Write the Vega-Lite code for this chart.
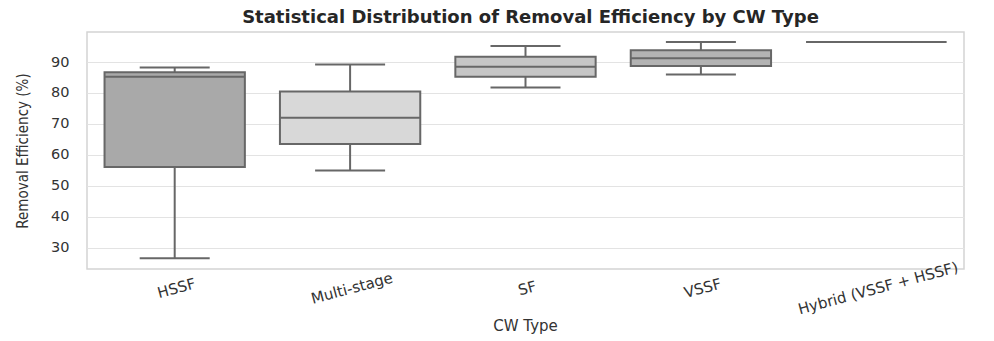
{
  "$schema": "https://vega.github.io/schema/vega-lite/v6.json",
  "autosize": "none",
  "width": 877,
  "height": 237,
  "padding": {"left": 87, "top": 32, "right": 30, "bottom": 72},
  "background": "white",
  "title": {
    "text": "Statistical Distribution of Removal Efficiency by CW Type",
    "font": "DejaVu Sans",
    "fontSize": 18,
    "fontWeight": "bold",
    "color": "#262626",
    "anchor": "middle",
    "offset": 5,
    "dx": 5
  },
  "config": {
    "view": {"stroke": "#d4d4d4", "strokeWidth": 1.5},
    "axis": {"labelFont": "DejaVu Sans", "titleFont": "DejaVu Sans", "labelColor": "#333333", "titleColor": "#333333", "domain": false, "ticks": false},
    "axisY": {"labelOverlap": false, "labelFontSize": 14.5, "labelPadding": 18}
  },
  "data": {
    "values": [
      {"type": "HSSF", "min": 26.6, "q1": 56.1, "median": 85.2, "q3": 86.7, "max": 88.2},
      {"type": "Multi-stage", "min": 54.9, "q1": 63.5, "median": 72.0, "q3": 80.5, "max": 89.2},
      {"type": "SF", "min": 81.8, "q1": 85.2, "median": 88.5, "q3": 91.7, "max": 95.2},
      {"type": "VSSF", "min": 86.0, "q1": 88.7, "median": 91.2, "q3": 93.8, "max": 96.5},
      {"type": "Hybrid (VSSF + HSSF)", "min": 96.5, "q1": 96.5, "median": 96.5, "q3": 96.5, "max": 96.5}
    ]
  },
  "encoding": {
    "x": {
      "field": "type",
      "type": "nominal",
      "sort": null,
      "scale": {"paddingInner": 0, "paddingOuter": 0},
      "axis": {
        "title": "CW Type",
        "titleFontSize": 15,
        "titleFontWeight": "normal",
        "titleX": 438,
        "titleY": 56,
        "titleBaseline": "middle",
        "labelFontSize": 15,
        "labelAngle": -15,
        "labelAlign": "center",
        "labelBaseline": "top",
        "labelPadding": 12,
        "grid": false
      }
    }
  },
  "layer": [
    {
      "mark": {"type": "rule", "stroke": "#676767", "strokeWidth": 2},
      "encoding": {
        "y": {
          "field": "min",
          "type": "quantitative",
          "scale": {"domain": [23.1, 99.7], "nice": false, "zero": false},
          "axis": {
            "title": "Removal Efficiency (%)",
            "titleFont": "DejaVu Sans Condensed, Liberation Sans, sans-serif",
            "titleFontSize": 15,
            "titleFontWeight": "normal",
            "titleAngle": -90,
            "titleX": -65,
            "titleY": 118.5,
            "titleAlign": "center",
            "titleBaseline": "middle",
            "values": [30, 40, 50, 60, 70, 80, 90],
            "tickCount": 7,
            "labelOverlap": false,
            "grid": true,
            "gridColor": "#e3e3e3",
            "gridWidth": 1.2
          }
        },
        "y2": {"field": "max"}
      }
    },
    {
      "mark": {"type": "bar", "width": {"band": 0.8}, "stroke": "#676767", "strokeWidth": 2},
      "encoding": {
        "y": {"field": "q1", "type": "quantitative", "axis": {"values": [30, 40, 50, 60, 70, 80, 90], "tickCount": 7, "labelOverlap": false}},
        "y2": {"field": "q3"},
        "fill": {
          "field": "type",
          "type": "nominal",
          "sort": null,
          "scale": {
            "domain": ["HSSF", "Multi-stage", "SF", "VSSF", "Hybrid (VSSF + HSSF)"],
            "range": ["#a9a9a9", "#d8d8d8", "#c6c6c6", "#b3b3b3", "#bdbdbd"]
          },
          "legend": null
        }
      }
    },
    {
      "mark": {"type": "tick", "color": "#676767", "size": 140, "thickness": 2, "opacity": 1},
      "encoding": {"y": {"field": "median", "type": "quantitative", "axis": {"values": [30, 40, 50, 60, 70, 80, 90], "tickCount": 7, "labelOverlap": false}}}
    },
    {
      "mark": {"type": "tick", "color": "#676767", "size": 70, "thickness": 2, "opacity": 1},
      "encoding": {"y": {"field": "min", "type": "quantitative", "axis": {"values": [30, 40, 50, 60, 70, 80, 90], "tickCount": 7, "labelOverlap": false}}}
    },
    {
      "mark": {"type": "tick", "color": "#676767", "size": 70, "thickness": 2, "opacity": 1},
      "encoding": {"y": {"field": "max", "type": "quantitative", "axis": {"values": [30, 40, 50, 60, 70, 80, 90], "tickCount": 7, "labelOverlap": false}}}
    }
  ]
}
